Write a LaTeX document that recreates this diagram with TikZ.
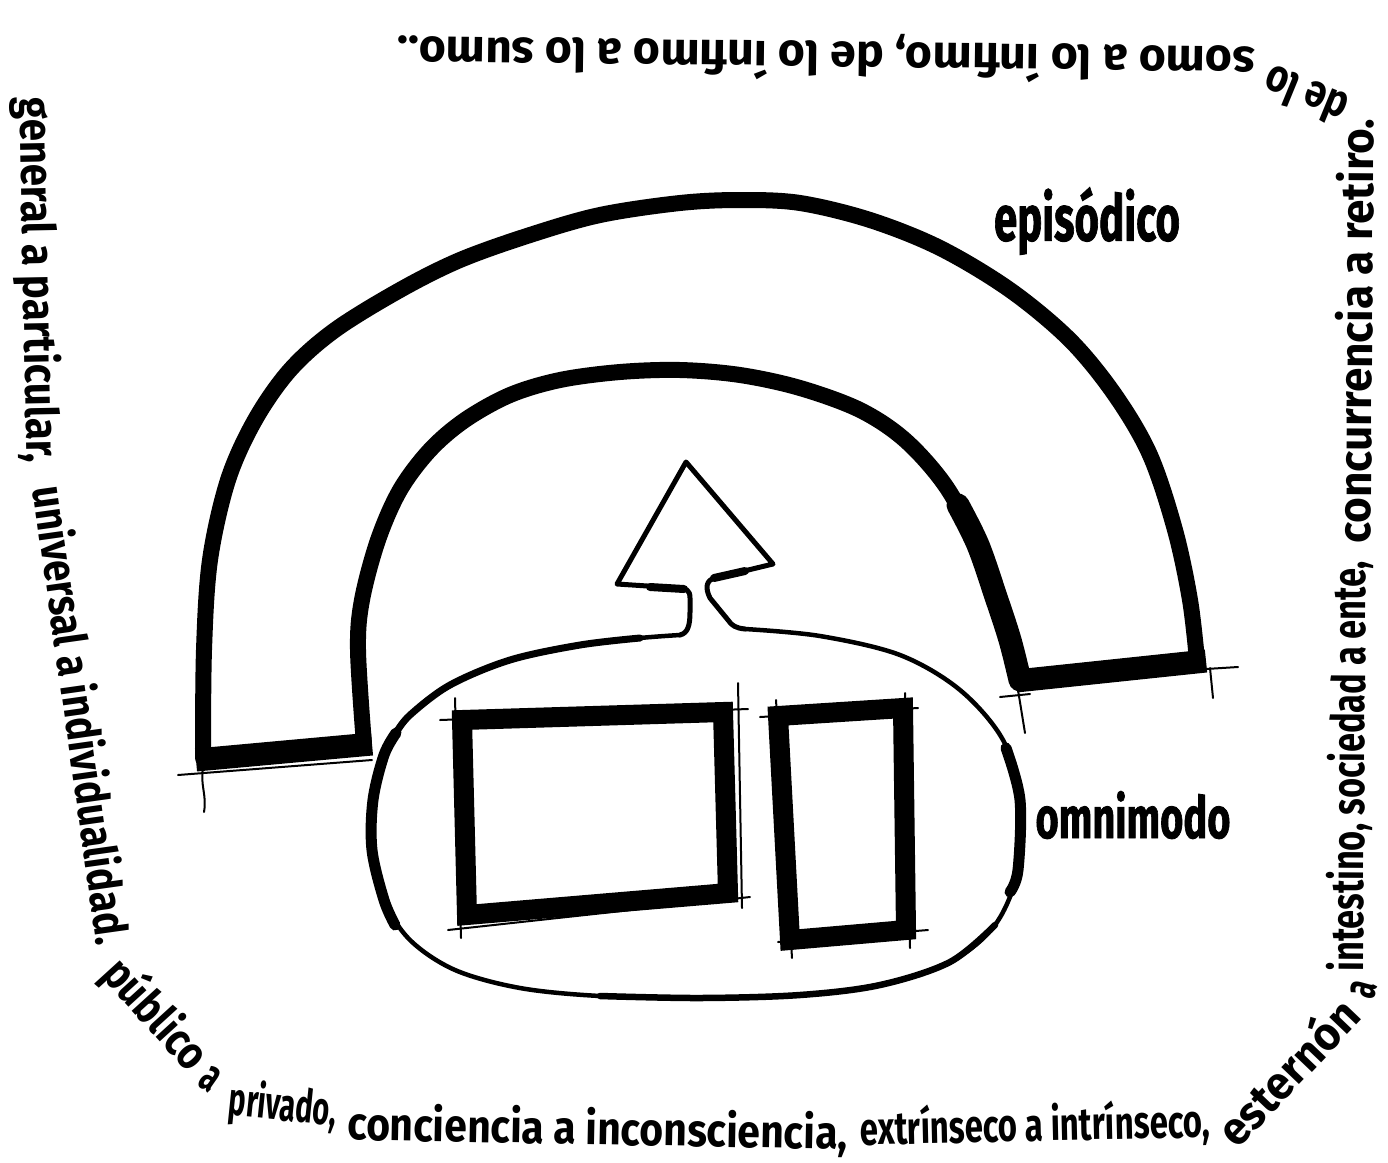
\documentclass[tikz,border=0pt]{standalone}
\usepackage{graphicx}
\usepackage{fontspec}
\setmainfont{Fira Sans}
\newfontfamily\hand{Fira Sans}
\newfontfamily\handheavy[FakeBold=1.5]{Fira Sans}
\newcommand\bordertxt{\hand\bfseries\fontsize{46pt}{46pt}\selectfont}
\newcommand\labeltxt[1]{\handheavy\bfseries\fontsize{#1}{#1}\selectfont}
\newcommand\fitw[2]{\resizebox{#1pt}{\height}{#2}}
\tikzset{
  ink/.style={draw=black, line join=round, line cap=round},
  archline/.style={ink, line width=16pt},
  barline/.style={draw=black, line width=23pt, line cap=butt},
  thinline/.style={ink, line width=2pt},
  ovalline/.style={ink, line width=4.5pt},
  label/.style={inner sep=0pt, text=black},
  bt/.style={inner sep=0pt, text=black, font=\bordertxt},
  rectline/.style={draw=black, line width=20pt, line join=miter}
}
\begin{document}
\begin{tikzpicture}[x=1pt,y=1pt]
\fill[white] (0,0) rectangle (1388,-1162);
\useasboundingbox (0,0) rectangle (1388,-1162);

% ---------- border text (runs round the frame) ----------
\node[bt, rotate=-88.9] (l1) at (37,-280) {\fitw{365}{general a particular,}};
\node[bt, rotate=-82.0] (l2) at (83,-715) {\fitw{462}{universal a individualidad.}};
\node[bt, rotate=-47.7] (b1) at (155,-1015) {\fitw{132}{público}};
\node[bt, rotate=-35] (b1a) at (210,-1079) {\fitw{16}{a}};
\node[bt, rotate=-5.9] (b2) at (283,-1107) {\fitw{108}{privado,}};
\node[bt, rotate=-1.1] (b3) at (597.5,-1130) {\fitw{500}{conciencia a inconsciencia,}};
\node[bt, rotate=1.3] (b4) at (1035,-1126) {\fitw{350}{extrínseco a intrínseco,}};
\node[bt, rotate=46.3] (b5) at (1287,-1071) {\fitw{182}{esternón}};
\node[bt, rotate=75] (b7) at (1364,-990) {\fitw{16}{a}};
\node[bt, rotate=89.6] (r1) at (1350,-766) {\fitw{410}{intestino, sociedad a ente,}};
\node[bt, rotate=89.6] (r2) at (1354,-331) {\fitw{425}{concurrencia a retiro.}};
\node[bt, rotate=157.7] (t0) at (1305,-96) {\fitw{86}{de lo}};
\node[bt, rotate=179.3] (t1) at (826,-57) {\fitw{858}{somo a lo ínfimo, de lo ínfimo a lo sumo..}};

% ---------- arch (episodico) ----------
\draw[archline] plot[smooth, tension=0.55] coordinates {(203,-758) (204,-650) (210,-560) (228,-480) (255,-420) (290,-370) (335,-330) (400,-290) (460,-260) (530,-235) (600,-215) (680,-203) (740,-200) (800,-203) (870,-220) (940,-248) (1010,-290) (1070,-340) (1115,-395) (1150,-455) (1175,-530) (1190,-600) (1197,-660)};
\draw[archline] plot[smooth, tension=0.55] coordinates {(364,-744) (358,-650) (362,-600) (378,-540) (400,-490) (430,-450) (465,-420) (510,-395) (560,-380) (620,-372) (680,-370) (740,-375) (800,-388) (860,-410) (905,-440) (945,-485) (975,-540) (995,-595) (1010,-640) (1022,-682)};
\draw[ink, line width=23pt] plot[smooth, tension=0.55] coordinates {(958,-505) (978,-545) (996,-597) (1010,-640) (1020,-680)};
\draw[barline] (196,-760) -- (372,-744);
\draw[barline] (1016,-681) -- (1206,-661);
% construction marks
\draw[thinline] (178,-775) -- (372,-760);
\draw[thinline] (203,-768) .. controls (200,-785) and (207,-795) .. (204,-812);
\draw[thinline] (1000,-697) -- (1030,-694);
\draw[thinline] (1018,-690) -- (1025,-733);
\draw[thinline] (1190,-670) -- (1238,-667);
\draw[thinline] (1210,-668) -- (1213,-698);

% ---------- oval (omnimodo) ----------
\draw[ovalline] plot[smooth, tension=0.55] coordinates {(745,-629) (820,-636) (900,-655) (960,-690) (1003,-740) (1020,-800) (1018,-870) (995,-925) (950,-962) (880,-985) (800,-995) (700,-998) (600,-996) (520,-988) (455,-970) (410,-940) (384,-900) (372,-850) (373,-800) (384,-755) (410,-715) (450,-685) (510,-660) (580,-645) (640,-638) (680,-635)};
\draw[ink, line width=11pt] plot[smooth, tension=0.55] coordinates {(395,-925) (384,-900) (372,-850) (373,-800) (384,-755) (396,-733)};
\draw[ink, line width=7pt] plot[smooth, tension=0.55] coordinates {(396,-733) (410,-715) (450,-685) (510,-660) (580,-645) (640,-638)};
\draw[ink, line width=6.5pt] plot[smooth, tension=0.55] coordinates {(600,-996) (700,-998) (800,-995) (880,-985) (950,-962) (995,-925)};
\draw[ink, line width=11pt] plot[smooth, tension=0.55] coordinates {(1006,-748) (1020,-800) (1018,-870) (1010,-892)};
% ---------- arrow rising from the oval ----------
\draw[ink, line width=5pt] (680,-635) .. controls (688,-633) and (690,-625) .. (690,-612) -- (690,-598)
  .. controls (690,-590) and (686,-588) .. (678,-588)
  -- (617,-584) -- (686,-462) -- (773,-564) -- (715,-578)
  .. controls (706,-580) and (705,-588) .. (710,-598)
  -- (728,-620) .. controls (732,-626) and (736,-628) .. (745,-629);
\draw[ink, line width=8pt] (650,-587) -- (684,-589);
\draw[ink, line width=8pt] (714,-578) -- (745,-571);

% ---------- rectangles ----------
\draw[thinline] (440,-720) -- (748,-709);
\draw[thinline] (455,-698) -- (461,-938);
\draw[thinline] (738,-683) -- (742,-908);
\draw[thinline] (448,-930) -- (750,-897);
\draw[thinline] (760,-717) -- (918,-708);
\draw[thinline] (776,-700) -- (792,-958);
\draw[thinline] (905,-693) -- (910,-948);
\draw[thinline] (778,-942) -- (928,-930);
\draw[rectline] (462,-720) -- (723,-712) -- (728,-893) -- (467,-915) -- cycle;
\draw[rectline] (778,-716) -- (903,-708) -- (906,-930) -- (790,-940) -- cycle;

% ---------- labels ----------
\node[label] (epi) at (1087,-221) {\fitw{186}{\labeltxt{64pt}episódico}};
\node[label] (omni) at (1133,-815) {\fitw{195}{\labeltxt{58pt}omnimodo}};
\end{tikzpicture}
\end{document}
